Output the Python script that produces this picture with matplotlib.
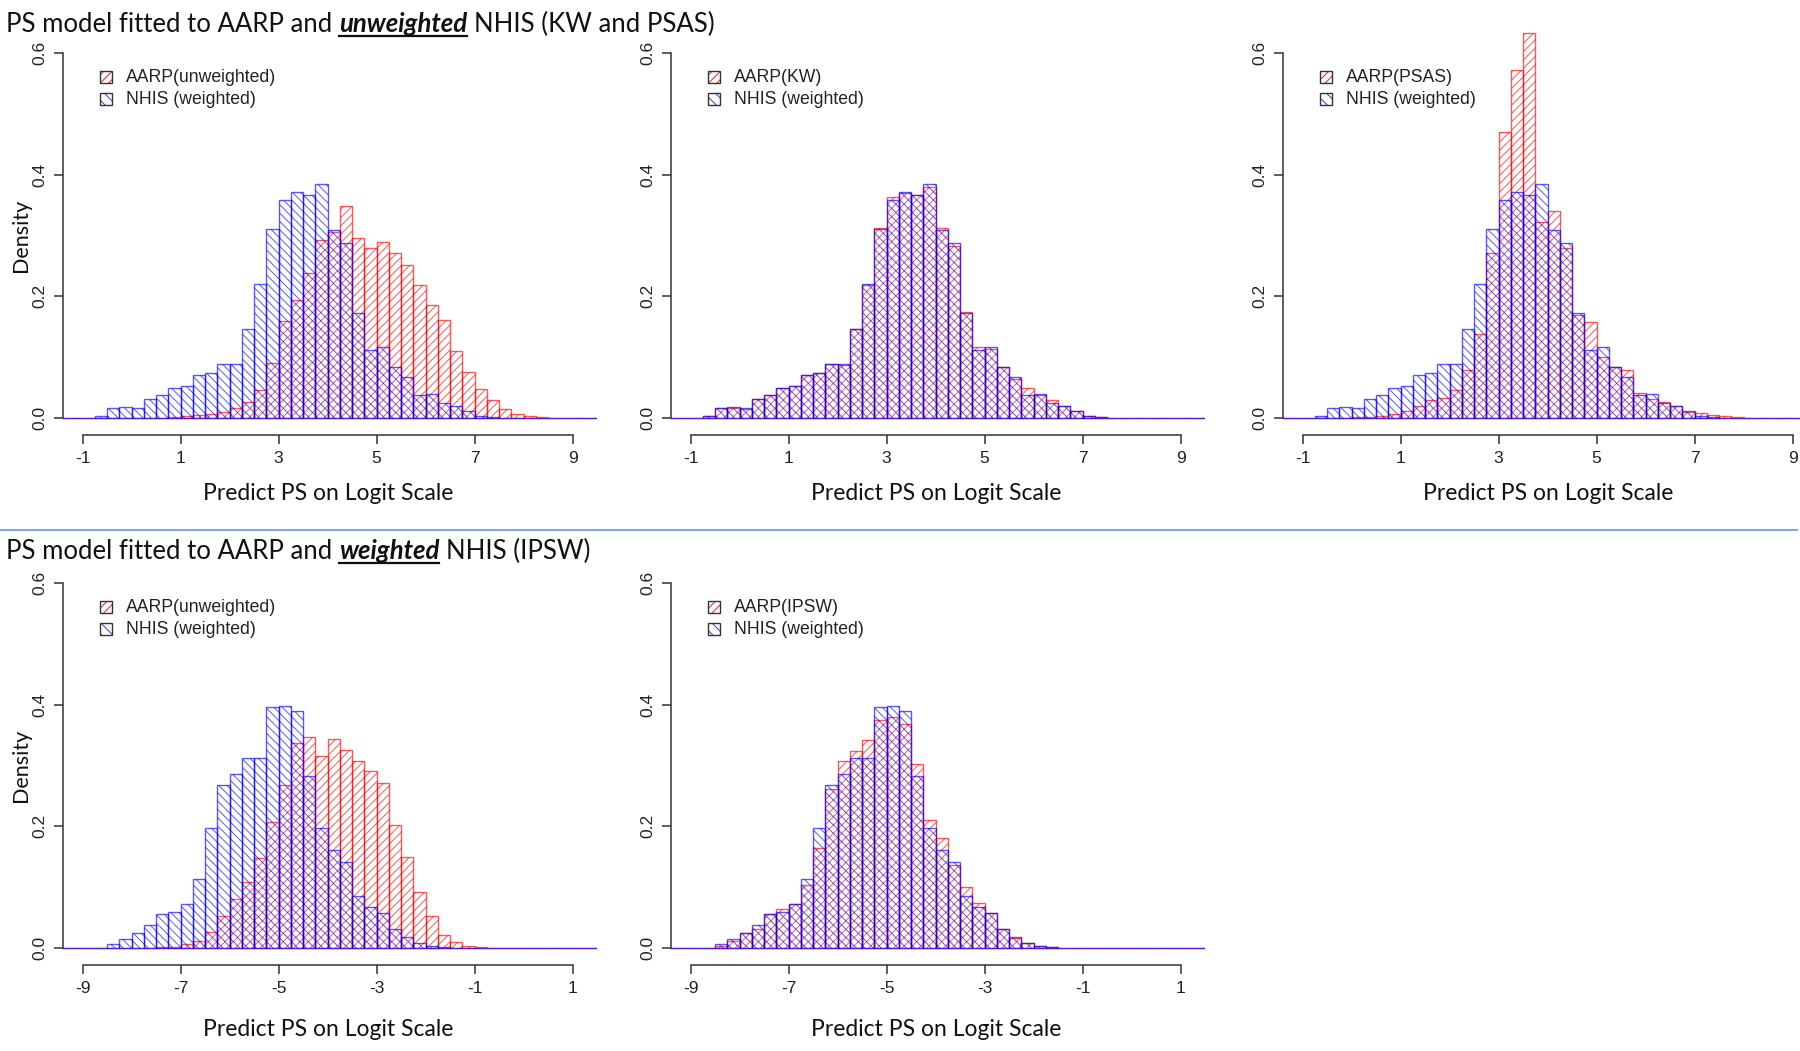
import numpy as np
import matplotlib
matplotlib.use('Agg')
import matplotlib.pyplot as plt
from matplotlib.patches import Rectangle
from matplotlib.lines import Line2D

plt.rcParams['hatch.linewidth'] = 0.7

W, H = 1800, 1051
bw = 0.25

# %%
# densities, one value per 0.25-wide bin
# top row: NHIS (weighted), first bin starts at -0.75
nhis_top_start = -0.75
nhis_top = [0.003, 0.016, 0.018, 0.016, 0.031, 0.037, 0.049, 0.052, 0.071, 0.074,
            0.089, 0.088, 0.146, 0.220, 0.310, 0.358, 0.372, 0.367, 0.385, 0.309,
            0.288, 0.172, 0.112, 0.116, 0.083, 0.067, 0.037, 0.039, 0.025, 0.020,
            0.012, 0.003, 0.002]

# AARP unweighted (top row), starts at 0.75
aarp_unw_top_start = 0.75
aarp_unw_top = [0.002, 0.003, 0.005, 0.007, 0.009, 0.016, 0.027, 0.046, 0.091, 0.160,
                0.194, 0.239, 0.293, 0.305, 0.348, 0.296, 0.280, 0.290, 0.271, 0.251,
                0.219, 0.185, 0.161, 0.110, 0.075, 0.048, 0.030, 0.014, 0.007, 0.003,
                0.001]

# AARP(KW), starts at -0.75
aarp_kw_start = -0.75
aarp_kw = [0.003, 0.016, 0.017, 0.015, 0.031, 0.037, 0.049, 0.053, 0.071, 0.074,
           0.089, 0.087, 0.146, 0.218, 0.312, 0.364, 0.370, 0.366, 0.379, 0.313,
           0.282, 0.174, 0.117, 0.113, 0.083, 0.064, 0.049, 0.038, 0.030, 0.020,
           0.011, 0.004, 0.002]

# AARP(PSAS), starts at 0.0
aarp_psas_start = 0.0
aarp_psas = [0.002, 0.002, 0.004, 0.006, 0.011, 0.020, 0.030, 0.033, 0.046, 0.079,
             0.138, 0.272, 0.470, 0.572, 0.633, 0.322, 0.340, 0.280, 0.169, 0.157,
             0.101, 0.083, 0.079, 0.041, 0.031, 0.027, 0.019, 0.009, 0.008, 0.005,
             0.004, 0.001]

# bottom row: NHIS (weighted), starts at -8.5
nhis_bot_start = -8.5
nhis_bot = [0.007, 0.014, 0.025, 0.037, 0.056, 0.059, 0.072, 0.114, 0.198, 0.268,
            0.286, 0.313, 0.313, 0.396, 0.398, 0.389, 0.283, 0.197, 0.161, 0.142,
            0.086, 0.067, 0.058, 0.032, 0.018, 0.008, 0.004, 0.001]

# AARP unweighted (bottom row), starts at -7.5
aarp_unw_bot_start = -7.5
aarp_unw_bot = [0.001, 0.002, 0.006, 0.011, 0.026, 0.053, 0.081, 0.109, 0.148, 0.207,
                0.268, 0.337, 0.347, 0.315, 0.343, 0.326, 0.308, 0.291, 0.271, 0.202,
                0.150, 0.092, 0.052, 0.022, 0.009, 0.003, 0.001]

# AARP(IPSW), starts at -8.5
aarp_ipsw_start = -8.5
aarp_ipsw = [0.003, 0.012, 0.024, 0.032, 0.056, 0.064, 0.072, 0.103, 0.164, 0.261,
             0.307, 0.324, 0.342, 0.375, 0.379, 0.369, 0.303, 0.211, 0.181, 0.136,
             0.100, 0.074, 0.057, 0.031, 0.017, 0.008, 0.004, 0.001]

top_ticks = [-1, 1, 3, 5, 7, 9]
bot_ticks = [-9, -7, -5, -3, -1, 1]
y_ticks = [0.0, 0.2, 0.4, 0.6]

red = (1, 0, 0, 0.65)
blue = (0, 0, 1, 0.65)


def fx(px):
    return px / W


def fy(px):
    return 1 - px / H


def binned(lo, hi, start, vals):
    lefts = np.arange(lo, hi, bw)
    h = np.zeros(len(lefts))
    i0 = int(round((start - lo) / bw))
    h[i0:i0 + len(vals)] = vals
    return lefts, h


fig = plt.figure(figsize=(18, 10.51), dpi=100)

ppu = 49.0  # px per x unit
ppy = 608.3  # px per density unit
ylo, yhi = -0.028, 0.65


def panel(L, axis_px, xlo, xhi, ticks, red_start, red_vals, blue_start, blue_vals,
          red_label, legend_y, xlab_y, density=False):
    width = (xhi - xlo) * ppu
    height = (yhi - ylo) * ppy
    ax = fig.add_axes([fx(L), fy(axis_px), width / W, height / H])
    lefts, hr = binned(xlo - 0.1, xhi, red_start, red_vals)
    _, hb = binned(xlo - 0.1, xhi, blue_start, blue_vals)
    ax.bar(lefts, hr, width=bw, align='edge', fill=False, edgecolor=red,
           hatch='////', lw=1.0)
    ax.bar(lefts, hb, width=bw, align='edge', fill=False, edgecolor=blue,
           hatch='\\\\\\\\', lw=1.0)
    ax.set_xlim(xlo, xhi)
    ax.set_ylim(ylo, yhi)
    for s in ['top', 'right']:
        ax.spines[s].set_visible(False)
    ax.spines['left'].set_bounds(0, 0.6)
    ax.spines['bottom'].set_bounds(ticks[0], ticks[-1])
    for s in ['left', 'bottom']:
        ax.spines[s].set_color('#333333')
        ax.spines[s].set_linewidth(1.1)
    ax.set_xticks(ticks)
    ax.set_xticklabels([str(t) for t in ticks], family='Liberation Sans')
    ax.set_yticks(y_ticks)
    ax.set_yticklabels(['%.1f' % t for t in y_ticks], rotation=90, va='center',
                       family='Liberation Sans')
    ax.tick_params(length=6.5, width=1.1, color='#333333', labelsize=12.5,
                   labelcolor='#222222', pad=5)
    ax.patch.set_visible(False)

    # legend
    for i, (lab, col, hatch) in enumerate([(red_label, (1, 0, 0, 0.9), '////'),
                                           ('NHIS (weighted)', (0, 0, 1, 0.8), '\\\\\\')]):
        yc = legend_y + i * 22
        fig.add_artist(Rectangle((fx(L + 37), fy(yc + 6)), 12 / W, 12 / H,
                                 transform=fig.transFigure, fill=False,
                                 edgecolor=col, hatch=hatch, lw=0))
        fig.add_artist(Rectangle((fx(L + 37), fy(yc + 6)), 12 / W, 12 / H,
                                 transform=fig.transFigure, fill=False,
                                 edgecolor='#333333', lw=1.0))
        fig.text(fx(L + 63), fy(yc), lab, va='center', ha='left', fontsize=12.7,
                 family='Liberation Sans', color='#222222')

    fig.text(fx(L + 265), fy(xlab_y), 'Predict PS on Logit Scale', ha='center',
             va='center', fontsize=16.5, family='Lato', color='#111111')
    if density:
        fig.text(fx(21), fy(axis_px - 17 - 0.3 * ppy), 'Density', rotation=90,
                 ha='center', va='center', fontsize=15.5, family='Lato', color='#111111')
    return ax


# top row
panel(63, 435, -1.40, 9.5, top_ticks, aarp_unw_top_start, aarp_unw_top,
      nhis_top_start, nhis_top, 'AARP(unweighted)', 77, 493, density=True)
panel(671, 435, -1.40, 9.5, top_ticks, aarp_kw_start, aarp_kw,
      nhis_top_start, nhis_top, 'AARP(KW)', 77, 493)
panel(1283, 435, -1.40, 9.5, top_ticks, aarp_psas_start, aarp_psas,
      nhis_top_start, nhis_top, 'AARP(PSAS)', 77, 493)

# bottom row
panel(63, 965, -9.40, 1.5, bot_ticks, aarp_unw_bot_start, aarp_unw_bot,
      nhis_bot_start, nhis_bot, 'AARP(unweighted)', 607, 1030, density=True)
panel(671, 965, -9.40, 1.5, bot_ticks, aarp_ipsw_start, aarp_ipsw,
      nhis_bot_start, nhis_bot, 'AARP(IPSW)', 607, 1030)

# separator line between the two rows
fig.add_artist(Line2D([0, fx(1797)], [fy(530), fy(530)], transform=fig.transFigure,
                      color='#5B9BD5', lw=1.2))

# titles with a bold italic underlined word
renderer = fig.canvas.get_renderer()


def text_width(s, **kw):
    t = fig.text(0, 0, s, **kw)
    w = t.get_window_extent(renderer=renderer).width
    t.remove()
    return w


def rich_title(x_px, base_px, parts, size=18.5):
    x = x_px
    norm = dict(fontsize=size, family='Lato', color='#111111')
    space = text_width('a a', **norm) - text_width('aa', **norm)
    for i, (txt, emph) in enumerate(parts):
        kw = dict(norm)
        if emph:
            kw.update(fontweight='bold', style='italic')
        t = fig.text(fx(x), fy(base_px), txt, va='baseline', ha='left', **kw)
        bb = t.get_window_extent(renderer=renderer)
        if emph:
            fig.add_artist(Line2D([fx(x), fx(x + bb.width)], [fy(base_px + 4), fy(base_px + 4)],
                                  transform=fig.transFigure, color='#111111', lw=1.6))
        x += bb.width + space


rich_title(6, 32, [('PS model fitted to AARP and', False), ('unweighted', True),
                   ('NHIS (KW and PSAS)', False)])
rich_title(6, 559, [('PS model fitted to AARP and', False), ('weighted', True),
                    ('NHIS (IPSW)', False)])

plt.savefig('out.png', dpi=100)
